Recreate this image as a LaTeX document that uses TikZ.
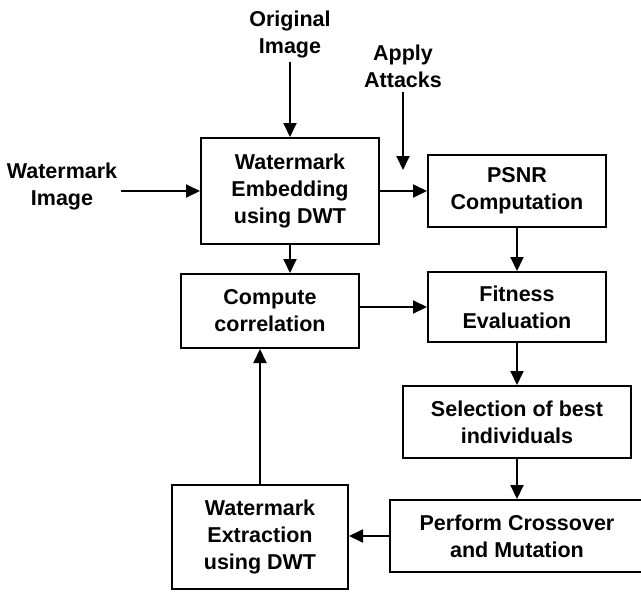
\documentclass[tikz,border=0pt]{standalone}
\usepackage{fontspec}
\setmainfont{Liberation Sans}
\usetikzlibrary{arrows.meta}

\begin{document}
\begin{tikzpicture}[x=1pt, y=-1pt,
    block/.style={draw, line width=2pt, align=center, inner sep=0pt},
    label/.style={align=center, inner sep=4pt},
    arr/.style={-{Triangle[length=14pt, width=13pt]}, line width=2pt},
    every node/.style={font=\fontsize{21.5}{27}\selectfont\bfseries}]
          \clip (0,0) rectangle (641,592);

          \node[block, minimum width=178pt, minimum height=106pt] (embed) at (290,191) {Watermark\\Embedding\\using DWT};
          \node[block, minimum width=178pt, minimum height=72pt] (psnr) at (517,191) {PSNR\\Computation};
          \node[block, minimum width=178pt, minimum height=74pt] (compute) at (270,311) {Compute\\correlation};
          \node[block, minimum width=178pt, minimum height=70pt] (fitness) at (517,307) {Fitness\\Evaluation};
          \node[block, minimum width=228pt, minimum height=72pt] (select) at (517,422) {Selection of best\\individuals};
          \node[block, minimum width=254pt, minimum height=72pt] (cross) at (517,536) {Perform Crossover\\and Mutation};
          \node[block, minimum width=176pt, minimum height=104pt] (extract) at (260,537) {Watermark\\Extraction\\using DWT};

          \node[label] (orig) at (290,34.5) {Original\\Image};
          \node[label] (apply) at (403,66.5) {Apply\\Attacks};
          \node[label] (wmimg) at (62,186.5) {Watermark\\Image};
          \coordinate (atk) at (403,170);

          \path[arr]
          (orig) edge (orig |- embed.north)
          (apply) edge (atk)
          (wmimg.east |- embed.west) edge (embed.west)
          (embed) edge (psnr)
          (psnr) edge (fitness)
          (embed.south) edge (embed.south |- compute.north)
          (compute.east |- fitness.west) edge (fitness.west)
          (fitness) edge (select)
          (select) edge (cross)
          (cross.west) edge (cross.west -| extract.east)
          (extract.north) edge (extract.north |- compute.south);
        \end{tikzpicture}
\end{document}
